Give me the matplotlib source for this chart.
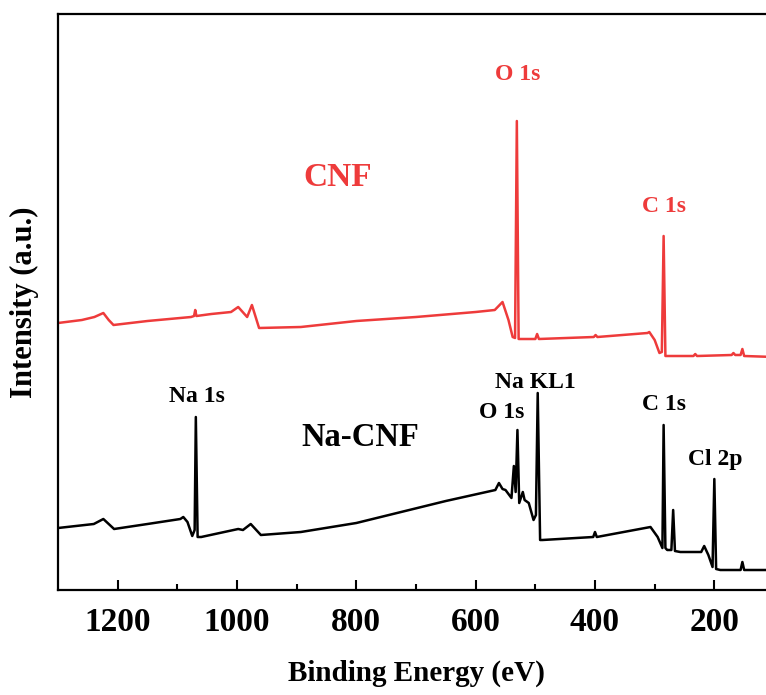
import numpy as np
import matplotlib.pyplot as plt

plt.rcParams["font.family"] = ["Liberation Serif", "DejaVu Serif"]
plt.rcParams["font.weight"] = "bold"

# CNF survey spectrum (binding energy in eV, intensity in a.u.)
cnf_energy = [1300, 1260, 1239, 1224, 1215, 1207, 1150, 1077, 1072, 1070, 1068, 1043,
              1010, 998, 983, 975, 963, 893, 800, 700, 600, 568, 555, 545, 538, 534,
              531, 528, 500, 497, 494, 402, 399, 396, 312, 309, 300, 292, 288, 285,
              282, 235, 232, 229, 171, 168, 165, 156, 153, 150, 100]
cnf_intensity = [267, 270, 273, 277, 270, 265, 269, 273, 274, 280, 274, 276,
                 278, 283, 273, 285, 262, 263, 269, 273, 278, 280, 288, 270, 253, 252,
                 469, 251, 251, 256, 251, 253, 255, 253, 257, 258, 250, 237, 238, 354,
                 234, 234, 236, 234, 235, 237, 235, 235, 241, 234, 233]

# Na-CNF survey spectrum
na_energy = [1300, 1240, 1224, 1206, 1150, 1095, 1090, 1083, 1075, 1071, 1069, 1066,
             1060, 998, 990, 977, 960, 893, 800, 725, 650, 567, 561, 555, 550, 540,
             536, 533, 530, 527, 521, 518, 511, 503, 499, 496, 492, 488, 403, 400,
             397, 307, 295, 287, 285, 282, 279, 272, 269, 266, 257, 222, 217, 210,
             203, 200, 197, 190, 156, 153, 150, 100]
na_intensity = [62, 66, 71, 61, 66, 71, 73, 68, 54, 60, 173, 53,
                53, 61, 60, 66, 55, 58, 67, 78, 89, 100, 107, 101, 100, 92,
                124, 98, 160, 87, 98, 90, 87, 70, 75, 197, 50, 50, 53, 58,
                53, 63, 53, 42, 165, 42, 40, 40, 80, 39, 38, 38, 44, 35,
                23, 111, 21, 20, 20, 28, 20, 20]

peak_labels_cnf = ["O 1s", "C 1s"]
peak_pos_cnf = [(530, 515), (285, 383)]
peak_labels_na = ["Na 1s", "O 1s", "Na KL1", "C 1s", "Cl 2p"]
peak_pos_na = [(1067, 193), (556, 178), (500, 207), (284, 185), (198, 130)]

red = "#EE3B3B"

fig = plt.figure(figsize=(7.66, 6.95), dpi=100)
ax = fig.add_axes([58 / 766, 105 / 695, (774 - 58) / 766, 576 / 695])

ax.plot(cnf_energy, cnf_intensity, color=red, linewidth=1.8)
ax.plot(na_energy, na_intensity, color="black", linewidth=1.8)

ax.set_xlim(1300, 100)
ax.set_ylim(0, 576)

ax.set_xticks([1200, 1000, 800, 600, 400, 200])
ax.set_xticks([1100, 900, 700, 500, 300], minor=True)
ax.set_yticks([])
ax.tick_params(axis="x", which="major", direction="in", length=7, width=1.5,
               labelsize=24, pad=12)
ax.tick_params(axis="x", which="minor", direction="in", length=4, width=1.5)
for lab in ax.get_xticklabels():
    lab.set_fontweight("bold")

for side in ["left", "bottom", "top", "right"]:
    ax.spines[side].set_linewidth(1.6)

ax.set_xlabel("Binding Energy (eV)", fontsize=21, fontweight="bold", labelpad=16)
ax.set_ylabel("Intensity (a.u.)", fontsize=22, fontweight="bold")
ax.yaxis.set_label_coords(-0.026, 0.5)

for txt, (e, v) in zip(peak_labels_cnf, peak_pos_cnf):
    ax.text(e, v, txt, color=red, fontsize=17, fontweight="bold", ha="center", va="center")
ax.text(831, 412, "CNF", color=red, fontsize=24, fontweight="bold", ha="center", va="center")

for txt, (e, v) in zip(peak_labels_na, peak_pos_na):
    ax.text(e, v, txt, color="black", fontsize=17, fontweight="bold", ha="center", va="center")
ax.text(794, 153, "Na-CNF", color="black", fontsize=23.5, fontweight="bold", ha="center", va="center")

fig.savefig("out.png", dpi=100)
